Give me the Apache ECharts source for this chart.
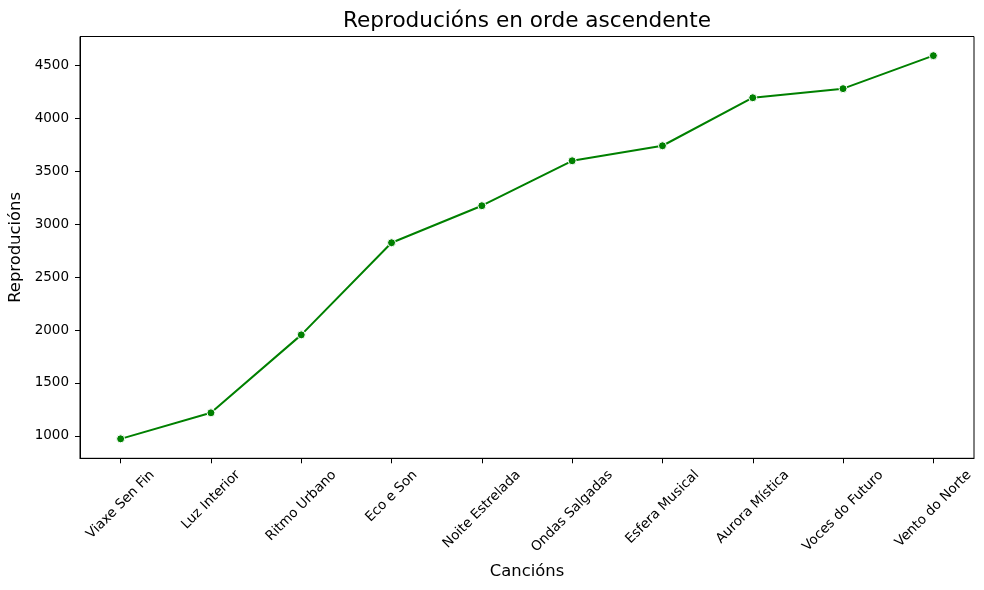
<!DOCTYPE html>
<html>
<head>
<meta charset="utf-8">
<script src="https://cdn.jsdelivr.net/npm/echarts@6/dist/echarts.min.js"></script>
<style>html,body{margin:0;padding:0;background:#fff}#c{width:984px;height:590px}</style>
</head>
<body>
<div id="c"></div>
<script>
const categories = ["Viaxe Sen Fin","Luz Interior","Ritmo Urbano","Eco e Son","Noite Estrelada","Ondas Salgadas","Esfera Musical","Aurora Mística","Voces do Futuro","Vento do Norte"];
const plays = [972, 1218, 1955, 2826, 3176, 3601, 3743, 4197, 4283, 4595];
const yTicks = [1000, 1500, 2000, 2500, 3000, 3500, 4000, 4500];
const titleText = "Reproducións en orde ascendente";
const xName = "Cancións";
const yName = "Reproducións";

const FONT = '"DejaVu Sans", sans-serif';
const tickFont = 13.5;

// measure label widths to center rotated labels like matplotlib
const cv = document.createElement('canvas').getContext('2d');
cv.font = tickFont + 'px "DejaVu Sans"';
const rich = {};
categories.forEach((c, i) => {
  const L = cv.measureText(c).width;
  const h = tickFont * 1.17;
  const p = (L + h) / 2;
  rich['l' + i] = { padding: [p, p, 0, 0], fontSize: tickFont, fontFamily: FONT, color: '#000' };
});

const chart = echarts.init(document.getElementById('c'), null, { renderer: 'canvas' });
chart.setOption({
  animation: false,
  backgroundColor: '#fff',
  textStyle: { fontFamily: FONT },
  graphic: [{
    type: 'text', x: 527, y: 21,
    style: { text: titleText, fontSize: 21.6, fontFamily: FONT, fill: '#000', align: 'center', verticalAlign: 'middle' }
  }],
  grid: { left: 80, right: 10, top: 36.5, bottom: 131.7, show: true, borderColor: '#000', borderWidth: 1, containLabel: false, outerBoundsMode: 'none' },
  xAxis: {
    type: 'value', min: -0.45, max: categories.length - 1 + 0.45,
    name: xName, nameLocation: 'middle', nameGap: 105,
    nameTextStyle: { fontSize: 16.4, fontFamily: FONT, color: '#000', verticalAlign: 'top' },
    axisLine: { show: true, onZero: false, lineStyle: { color: '#000', width: 1 } },
    axisTick: { show: true, length: 5, lineStyle: { color: '#000' }, customValues: categories.map((c, i) => i) },
    axisLabel: {
      customValues: categories.map((c, i) => i),
      rotate: 45, align: 'center', verticalAlign: 'middle', margin: 9,
      fontSize: tickFont, fontFamily: FONT, color: '#000',
      formatter: v => { const i = Math.round(v); return '{l' + i + '|' + categories[i] + '}'; },
      rich: rich
    },
    splitLine: { show: false }
  },
  yAxis: {
    type: 'value', min: 788, max: 4776,
    name: yName, nameLocation: 'middle', nameGap: 50,
    nameTextStyle: { fontSize: 16.4, fontFamily: FONT, color: '#000' },
    axisLine: { show: true, onZero: false, lineStyle: { color: '#000', width: 1 } },
    axisTick: { show: true, length: 5, lineStyle: { color: '#000' }, customValues: yTicks },
    axisLabel: { customValues: yTicks, margin: 11, fontSize: tickFont, fontFamily: FONT, color: '#000', formatter: v => String(v) },
    splitLine: { show: false }
  },
  series: [{
    type: 'line',
    data: plays.map((v, i) => [i, v]),
    lineStyle: { color: '#008000', width: 2 },
    itemStyle: { color: '#008000', borderColor: '#fff', borderWidth: 1 },
    symbol: 'circle', symbolSize: 8, showSymbol: true,
    z: 3
  }]
});
</script>
</body>
</html>
